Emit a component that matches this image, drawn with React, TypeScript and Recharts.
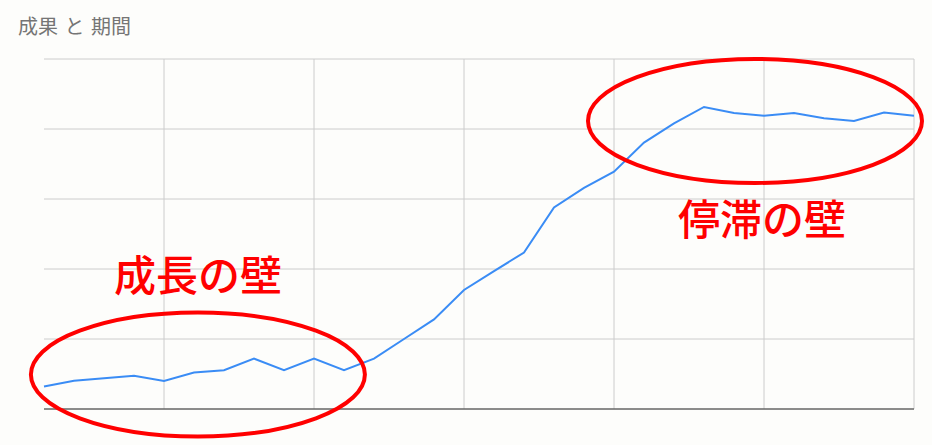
import React from "react";
import {
  LineChart,
  Line,
  XAxis,
  YAxis,
  CartesianGrid,
  ReferenceDot,
  ReferenceLine,
} from "recharts";

const periods = [
  1, 2, 3, 4, 5, 6, 7, 8, 9, 10, 11, 12, 13, 14, 15, 16, 17, 18, 19, 20, 21,
  22, 23, 24, 25, 26, 27, 28, 29, 30,
];

const results = [
  6.4, 8.1, 8.8, 9.5, 8.0, 10.4, 11.1, 14.4, 11.1, 14.4, 11.1, 14.4, 20.0,
  25.6, 34.0, 39.4, 44.7, 57.6, 63.2, 67.8, 76.1, 81.6, 86.3, 84.6, 83.8, 84.6,
  83.1, 82.3, 84.7, 83.8,
];

const xTicks = [5, 10, 15, 20, 25, 30];
const yTicks = [0, 20, 40, 60, 80, 100];

const title = "成果 と 期間";

// annotations: ellipse centre and label position, in data units
const growthWall = { x: 6.13, y: 9.86, labelX: 6.13, labelY: 33.7, label: "成長の壁" };
const plateauWall = { x: 24.7, y: 82.3, labelX: 24.93, labelY: 49.7, label: "停滞の壁" };

const chartData = periods.map((p, i) => ({ period: p, value: results[i] }));

const RED = "#ff0000";
const GRID = "#cccccc";

const ellipseShape = (props: any) => (
  <ellipse
    cx={props.cx}
    cy={props.cy}
    rx={167}
    ry={62}
    fill="none"
    stroke={RED}
    strokeWidth={4}
  />
);

const labelShape = (text: string) => (props: any) => (
  <text
    x={props.cx}
    y={props.cy}
    textAnchor="middle"
    fill={RED}
    fontSize={42}
    fontWeight={500}
    fontFamily="'Noto Sans CJK JP', sans-serif"
  >
    {text}
  </text>
);

// no tick labels; grid lines still follow the ticks
const noTick = () => <g />;

export default function App() {
  return (
    <div
      style={{
        position: "absolute",
        left: 0,
        top: 0,
        width: 932,
        height: 445,
        background: "#fdfdfb",
      }}
    >
      <div
        style={{
          position: "absolute",
          left: 18,
          top: 13,
          fontSize: 20,
          lineHeight: "26px",
          wordSpacing: 2,
          color: "#757575",
          fontFamily: "'Noto Sans CJK JP', sans-serif",
          whiteSpace: "pre",
        }}
      >
        {title}
      </div>
      <LineChart
        width={932}
        height={445}
        data={chartData}
        margin={{ top: 59, right: 18, bottom: 35, left: 44 }}
      >
        <CartesianGrid stroke={GRID} strokeWidth={1} vertical={false} />
        {/* vertical grid at the x ticks only, none on the left edge */}
        {xTicks.map((t) => (
          <ReferenceLine key={t} x={t} stroke={GRID} strokeWidth={1} />
        ))}
        <XAxis
          dataKey="period"
          type="number"
          domain={[1, 30]}
          ticks={xTicks}
          tick={noTick}
          tickLine={false}
          axisLine={{ stroke: "#333333", strokeWidth: 1 }}
          height={1}
        />
        <YAxis
          type="number"
          domain={[0, 100]}
          ticks={yTicks}
          tick={noTick}
          axisLine={false}
          tickLine={false}
          width={0}
        />
        <Line
          type="linear"
          dataKey="value"
          stroke="#3a8cf5"
          strokeWidth={2}
          dot={false}
          activeDot={false}
          isAnimationActive={false}
        />
        <ReferenceDot
          x={growthWall.x}
          y={growthWall.y}
          ifOverflow="visible"
          shape={ellipseShape}
        />
        <ReferenceDot
          x={plateauWall.x}
          y={plateauWall.y}
          ifOverflow="visible"
          shape={ellipseShape}
        />
        <ReferenceDot
          x={growthWall.labelX}
          y={growthWall.labelY}
          ifOverflow="visible"
          shape={labelShape(growthWall.label)}
        />
        <ReferenceDot
          x={plateauWall.labelX}
          y={plateauWall.labelY}
          ifOverflow="visible"
          shape={labelShape(plateauWall.label)}
        />
      </LineChart>
    </div>
  );
}
